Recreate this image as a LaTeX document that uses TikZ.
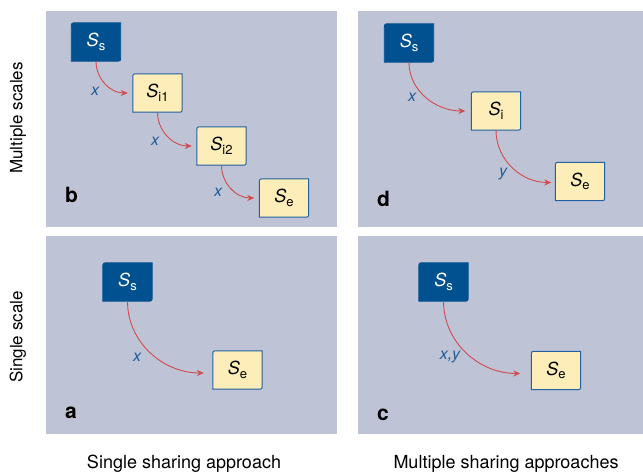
\documentclass[tikz,border=0pt]{standalone}
\usepackage{fontspec}
\setmainfont{TeX Gyre Heros}
\usetikzlibrary{positioning}
\usetikzlibrary{calc}
\usetikzlibrary{arrows.meta}
\definecolor{panelgray}{HTML}{BEC3D5}
\definecolor{srcblue}{HTML}{01508F}
\definecolor{tgtfill}{HTML}{FDEDB9}
\definecolor{tgtline}{HTML}{2262A3}
\definecolor{flowred}{HTML}{D24B4E}
\definecolor{labelblue}{HTML}{1F5C9A}
\tikzset{
    % A small solid tip for the sharing flows
    >={Stealth[length=7pt,width=6pt]},
%
    % Nodes only hold the stage names, the boxes are drawn behind them
    stage/.style={minimum width=49pt, minimum height=38pt, inner sep=0pt,
        font=\fontsize{18}{20}\selectfont},
    source stage/.style={stage, text=white},
    target stage/.style={stage, text=black},
%
    % Fills for the boxes and the panels
    source fill/.style={fill=srcblue, draw=srcblue, line width=0.8pt},
    target fill/.style={fill=tgtfill, draw=tgtline, line width=1pt},
    panel fill/.style={fill=panelgray},
%
    % Curved red flow from one stage to the next
    flow/.style={draw=flowred, line width=0.9pt, ->},
    flow label/.style={text=labelblue, font=\fontsize{16}{18}\selectfont\itshape},
    panel tag/.style={font=\fontsize{21}{24}\selectfont\bfseries,
        anchor=base west, inner sep=0pt},
    axis label/.style={font=\fontsize{17}{20}\selectfont}}
\newcommand\stname[1]{\textit{S}\raisebox{-3.5pt}{\fontsize{13}{13}\selectfont #1}}
\newcommand\stagebox[2]{%
    \path [#2] ([yshift=-5pt]#1.north west) .. controls (#1.north west) ..
        ([xshift=5pt]#1.north west) -- (#1.north east) --
        ([yshift=5pt]#1.south east) .. controls (#1.south east) ..
        ([xshift=-5pt]#1.south east) -- (#1.south west) -- cycle;}
\pgfdeclarelayer{panels}
\pgfdeclarelayer{background}
\pgfsetlayers{panels,background,main}
\begin{document}
\begin{tikzpicture}[x=1pt, y=-1pt]

\useasboundingbox (0,0) rectangle (643,473);

% Panels
\begin{pgfonlayer}{panels}
\path [panel fill] (46,11) rectangle (337,227);
\path [panel fill] (358,11) rectangle (643,227);
\path [panel fill] (46,236) rectangle (337,434);
\path [panel fill] (358,236) rectangle (643,434);
\end{pgfonlayer}

% Panel b: multiple scales, single sharing
\node [source stage] (b ss) at (96,42) {\stname{s}};
\node [target stage] (b si1) at (157.5,93) {\stname{i1}};
\node [target stage] (b si2) at (221.5,146) {\stname{i2}};
\node [target stage] (b se) at (284,198) {\stname{e}};
\draw [flow] (b ss.south) to[out=-90, in=180] ([xshift=-5pt]b si1.west);
\draw [flow] (b si1.south) to[out=-90, in=180] ([xshift=-5pt]b si2.west);
\draw [flow] (b si2.south) to[out=-90, in=180] ([xshift=-5pt]b se.west);
\node [flow label] (b x1) at (95,91) {x};
\node [flow label] (b x2) at (155,141) {x};
\node [flow label] (b x3) at (218,192) {x};
\node [panel tag] (b tag) at (65,203) {b};

% Panel d: multiple scales, multiple sharing
\node [source stage] (d ss) at (409,43) {\stname{s}};
\node [target stage] (d si) at (496,111) {\stname{i}};
\node [target stage] (d se) at (580,181.5) {\stname{e}};
\draw [flow] (d ss.south) to[out=-90, in=180] ([xshift=-6pt]d si.west);
\draw [flow] (d si.south) to[out=-90, in=180] ([xshift=-4pt,yshift=-1pt]d se.west);
\node [flow label] (d x) at (412,97) {x};
\node [flow label] (d y) at (503,174) {y};
\node [panel tag] (d tag) at (377,207) {d};

% Panel a: single scale, single sharing
\node [source stage] (a ss) at (127.5,282) {\stname{s}};
\node [target stage] (a se) at (237.5,370) {\stname{e}};
\draw [flow] (a ss.south) to[out=-90, in=180] ([xshift=-9pt,yshift=-3pt]a se.west);
\node [flow label] (a x) at (137,357) {x};
\node [panel tag] (a tag) at (65,418) {a};

% Panel c: single scale, multiple sharing
\node [source stage] (c ss) at (443.5,282) {\stname{s}};
\node [target stage] (c se) at (556,370.5) {\stname{e}};
\draw [flow] (c ss.south) to[out=-90, in=180] ([xshift=-11pt,yshift=-3pt]c se.west);
\node [flow label] (c xy) at (450,357) {x,y};
\node [panel tag] (c tag) at (377,420) {c};

% Boxes behind the stage names
\begin{pgfonlayer}{background}
\foreach \s in {b ss, d ss, a ss, c ss}
    {\stagebox{\s}{source fill}}
\foreach \s in {b si1, b si2, b se, d si, d se, a se, c se}
    {\stagebox{\s}{target fill}}
\end{pgfonlayer}

% Axis captions
\node [axis label, rotate=90] (multi scale) at (18,118) {Multiple scales};
\node [axis label, rotate=90] (single scale) at (18,337) {Single scale};
\node [axis label, anchor=base, font=\fontsize{18}{20}\selectfont]
    (single cap) at (184,468) {Single sharing approach};
\node [axis label, anchor=base, font=\fontsize{18}{20}\selectfont]
    (multi cap) at (506,468) {Multiple sharing approaches};

\end{tikzpicture}
\end{document}
